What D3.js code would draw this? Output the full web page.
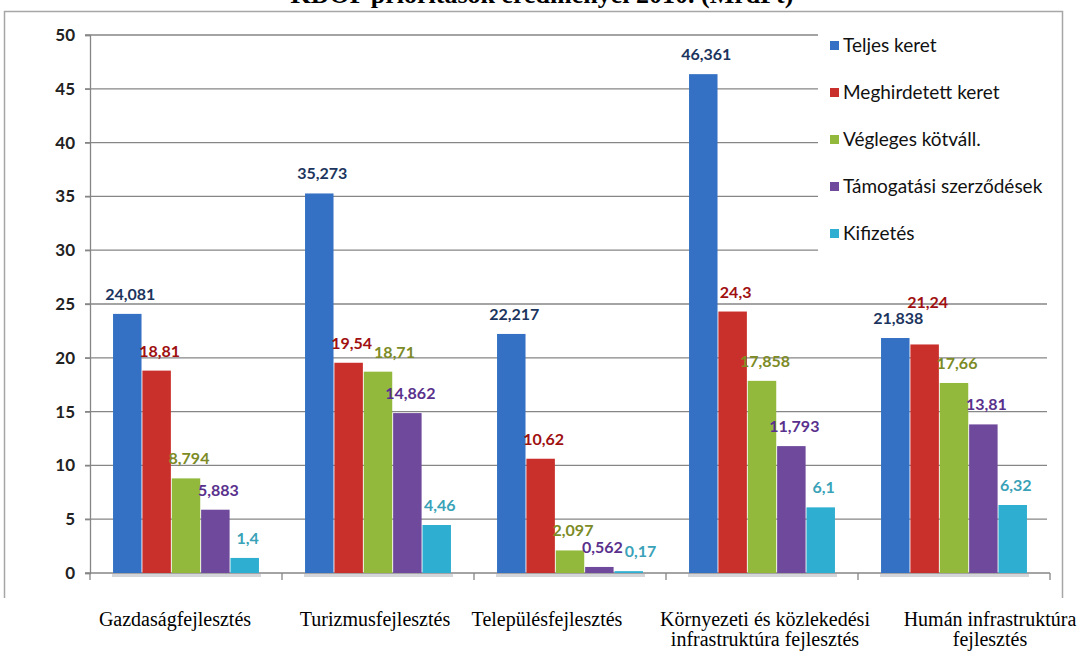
<!DOCTYPE html>
<html>
<head>
<meta charset="utf-8">
<script src="https://cdn.jsdelivr.net/npm/d3@7"></script>
<style>
  body { margin: 0; background: #fff; }
  svg { display: block; }
  .tick-label { font-family: Lato, "Open Sans", sans-serif; font-weight: bold; font-size: 17px; fill: #222; }
  .val { font-family: Lato, "Open Sans", sans-serif; font-weight: bold; font-size: 16px; }
  .leg { font-family: Lato, "Open Sans", sans-serif; font-size: 19px; fill: #111; }
  .cap { font-family: "Liberation Serif", "Times New Roman", serif; font-size: 20px; fill: #000; }
</style>
</head>
<body>
<div id="chart"></div>
<script>
// categories (priorities) and series
let categories = ["Gazdaságfejlesztés", "Turizmusfejlesztés", "Településfejlesztés", "Környezeti és közlekedési", "Humán infrastruktúra"];
let captions = [["Gazdaságfejlesztés"], ["Turizmusfejlesztés"], ["Településfejlesztés"], ["Környezeti és közlekedési", "infrastruktúra fejlesztés"], ["Humán infrastruktúra", "fejlesztés"]];
let series = ["Teljes keret", "Meghirdetett keret", "Végleges kötváll.", "Támogatási szerződések", "Kifizetés"];

let teljes = [24.081, 35.273, 22.217, 46.361, 21.838];
let meghirdetett = [18.81, 19.54, 10.62, 24.3, 21.24];
let vegleges = [8.794, 18.71, 2.097, 17.858, 17.66];
let tamogatasi = [5.883, 14.862, 0.562, 11.793, 13.81];
let kifizetes = [1.4, 4.46, 0.17, 6.1, 6.32];

let labels = [
	["24,081", "35,273", "22,217", "46,361", "21,838"],
	["18,81", "19,54", "10,62", "24,3", "21,24"],
	["8,794", "18,71", "2,097", "17,858", "17,66"],
	["5,883", "14,862", "0,562", "11,793", "13,81"],
	["1,4", "4,46", "0,17", "6,1", "6,32"],
];

let yTicks = [0, 5, 10, 15, 20, 25, 30, 35, 40, 45, 50];

let barColors = ["#3470c4", "#c9302c", "#93b93c", "#6f4a9c", "#2eaed0"];
let labelColors = ["#1c355e", "#a01010", "#7c8b25", "#59308c", "#3aa2b8"];

let values = [teljes, meghirdetett, vegleges, tamogatasi, kifizetes];

// captions sit in a separate text row under the chart, not on the band centres
let captionCenters = [175, 375, 547, 765, 990];

var W = 1084, H = 653;

let svg = d3.select("#chart").append("svg").attr("width", W).attr("height", H);

// title (cut off at top in the original)
svg.append("text")
	.attr("x", 542).attr("y", 3)
	.attr("text-anchor", "middle")
	.style("font-family", "Liberation Serif, serif")
	.style("font-weight", "bold")
	.style("font-size", "26px")
	.text("KDOP prioritások eredményei 2010. (MrdFt)");

// frame
svg.append("path")
	.attr("d", "M4.5,598 V11.5 H1062.5 V598")
	.attr("fill", "none")
	.attr("stroke", "#a6a6a6")
	.attr("stroke-width", 1.5);

let y = d3.scaleLinear().domain([0, 50]).range([573, 35]);
let x0 = d3.scaleBand().domain(categories).range([90, 1050]).paddingInner(0.24).paddingOuter(0.12);
let x1 = d3.scaleBand().domain(series).range([0, x0.bandwidth()]).paddingInner(0.03);

// gridlines
svg.append("g")
	.selectAll("line")
	.data(yTicks.filter((t) => t > 0))
	.enter()
	.append("line")
	.attr("x1", 85).attr("x2", 1047)
	.attr("y1", (d) => y(d)).attr("y2", (d) => y(d))
	.attr("stroke", "#868686")
	.attr("stroke-width", 1.3);

// y axis
let yAxis = svg.append("g")
	.attr("transform", "translate(90,0)")
	.call(d3.axisLeft(y).tickValues(yTicks).tickSize(5).tickPadding(10).tickFormat(d3.format("d")));
yAxis.select(".domain").attr("stroke", "#868686").attr("stroke-width", 1.3);
yAxis.selectAll(".tick line").attr("stroke", "#868686").attr("stroke-width", 1.3);
yAxis.selectAll(".tick text").attr("class", "tick-label").attr("fill", null);

// x axis line + separators
let bounds = categories.map((c) => x0(c) - (x0.step() * x0.paddingInner()) / 2);
bounds.push(1050);
svg.append("line")
	.attr("x1", 85).attr("x2", 1050)
	.attr("y1", y(0)).attr("y2", y(0))
	.attr("stroke", "#868686").attr("stroke-width", 1.3);
svg.append("g")
	.selectAll("line")
	.data(bounds)
	.enter()
	.append("line")
	.attr("x1", (d) => d).attr("x2", (d) => d)
	.attr("y1", y(0)).attr("y2", y(0) + 7)
	.attr("stroke", "#868686").attr("stroke-width", 1.3);

// light base under each group
svg.append("g")
	.selectAll("rect")
	.data(categories)
	.enter()
	.append("rect")
	.attr("x", (d) => x0(d) - 1)
	.attr("y", y(0) + 1)
	.attr("width", x0.bandwidth() + 3)
	.attr("height", 3)
	.attr("fill", "#d4d6da");

// bars
let groups = svg.append("g")
	.selectAll("g")
	.data(categories)
	.enter()
	.append("g")
	.attr("transform", (d) => "translate(" + x0(d) + ",0)");

let cells = (ci) => series.map((s, si) => ({ s: s, si: si, v: values[si][ci], label: labels[si][ci] }));

groups.each(function (c, ci) {
	let g = d3.select(this);
	g.selectAll("rect")
		.data(cells(ci))
		.enter()
		.append("rect")
		.attr("x", (d) => x1(d.s))
		.attr("y", (d) => y(d.v))
		.attr("width", x1.bandwidth())
		.attr("height", (d) => y(0) - y(d.v))
		.attr("fill", (d) => barColors[d.si]);

	let placed = [];
	g.selectAll("text")
		.data(cells(ci))
		.enter()
		.append("text")
		.attr("class", "val")
		.attr("text-anchor", "middle")
		.attr("fill", (d) => labelColors[d.si])
		.text((d) => d.label)
		.each(function (d) {
			let w = this.getComputedTextLength();
			let cx = x1(d.s) + x1.bandwidth() / 2 + 3;
			let by = y(d.v) - 14;
			// small clash: push right, big clash: lift above the previous label
			placed.forEach((p) => {
				let need = (p.w + w) / 2 + 2 - Math.abs(p.cx - cx);
				if (need > 0 && Math.abs(p.by - by) < 15) {
					if (need < 15) cx += need;
					else by = p.by - 16;
				}
			});
			placed.push({ cx: cx, by: by, w: w });
			d3.select(this).attr("x", cx).attr("y", by);
		});
});

// legend
let legend = svg.append("g").attr("transform", "translate(818,26)");
legend.append("rect").attr("x", 0).attr("y", 0).attr("width", 235).attr("height", 232).attr("fill", "#fff");
let li = legend.selectAll("g")
	.data(series)
	.enter()
	.append("g")
	.attr("transform", (d, i) => "translate(12," + (20 + i * 47) + ")");
li.append("rect")
	.attr("x", 0).attr("y", -5)
	.attr("width", 9).attr("height", 9)
	.attr("fill", (d, i) => barColors[i]);
li.append("text")
	.attr("class", "leg")
	.attr("x", 13).attr("y", 6)
	.text((d) => d);

// captions below the chart
let cap = svg.append("g")
	.selectAll("text")
	.data(captions)
	.enter()
	.append("text")
	.attr("class", "cap")
	.attr("text-anchor", "middle")
	.attr("x", (d, i) => captionCenters[i])
	.attr("y", 626);
cap.selectAll("tspan")
	.data((d) => d)
	.enter()
	.append("tspan")
	.attr("x", function () { return d3.select(this.parentNode).attr("x"); })
	.attr("dy", (d, i) => (i === 0 ? 0 : 20))
	.text((d) => d);
</script>
</body>
</html>
